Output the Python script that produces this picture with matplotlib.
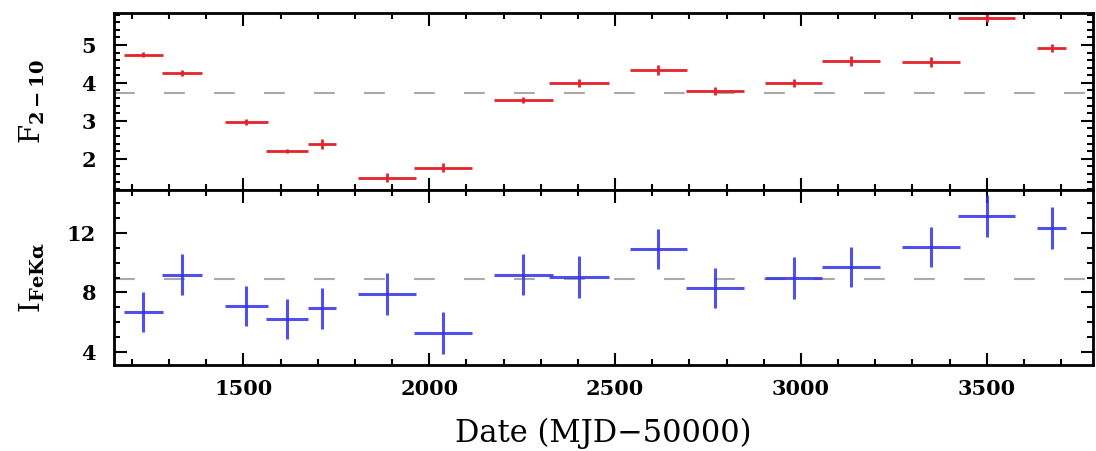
import matplotlib
matplotlib.use('Agg')
import matplotlib.pyplot as plt
from matplotlib.ticker import MultipleLocator

# ---------------------------------------------------------------------
# Datos
# ---------------------------------------------------------------------
fecha = [1231, 1336, 1508, 1618, 1712, 1887, 2038, 2253,
         2403, 2616, 2769, 2981, 3134, 3349, 3500, 3675]
semiancho = [52, 54, 58, 56, 38, 78, 78, 79,
             81, 77, 77, 77, 78, 78, 77, 39]

flujo = [4.74, 4.26, 2.97, 2.21, 2.39, 1.50, 1.76, 3.55,
         4.00, 4.34, 3.79, 4.00, 4.58, 4.55, 5.71, 4.92]
flujo_err = [0.07, 0.07, 0.09, 0.06, 0.12, 0.12, 0.12, 0.08,
             0.10, 0.12, 0.10, 0.10, 0.13, 0.12, 0.10, 0.10]
flujo_medio = 3.74

linea = [6.66, 9.20, 7.06, 6.19, 6.93, 7.87, 5.25, 9.20,
         9.02, 10.93, 8.27, 8.96, 9.70, 11.06, 13.14, 12.33]
linea_err = [1.35, 1.35, 1.35, 1.35, 1.37, 1.40, 1.40, 1.37,
             1.40, 1.35, 1.35, 1.40, 1.37, 1.35, 1.40, 1.40]
linea_media = 8.9

plt.rcParams['mathtext.fontset'] = 'dejavuserif'

fig = plt.figure(figsize=(10.96, 4.51), dpi=100)
ax1 = fig.add_axes([0.104, 0.579, 0.893, 0.392])
ax2 = fig.add_axes([0.104, 0.191, 0.893, 0.388], sharex=ax1)

rojo = '#e3242b'
azul = '#3333e6'
gris = '#aaaaaa'

ax1.errorbar(fecha, flujo, xerr=semiancho, yerr=flujo_err, fmt='none',
             ecolor=rojo, elinewidth=2.0, capsize=0)
ax1.axhline(flujo_medio, color=gris, lw=1.5, ls=(0, (10, 14)), zorder=0)

ax2.errorbar(fecha, linea, xerr=semiancho, yerr=linea_err, fmt='none',
             ecolor=azul, elinewidth=2.2, capsize=0, alpha=0.85)
ax2.axhline(linea_media, color=gris, lw=1.5, ls=(0, (10, 14)), zorder=0)

ax1.set_xlim(1152, 3785)
ax1.set_ylim(1.18, 5.84)
ax2.set_ylim(3.13, 14.89)

ax1.xaxis.set_major_locator(MultipleLocator(500))
ax1.xaxis.set_minor_locator(MultipleLocator(100))
ax1.yaxis.set_major_locator(MultipleLocator(1))
ax1.yaxis.set_minor_locator(MultipleLocator(0.2))
ax2.yaxis.set_major_locator(MultipleLocator(4))
ax2.yaxis.set_minor_locator(MultipleLocator(1))

fuente_ticks = {'family': 'DejaVu Serif', 'weight': 'bold', 'size': 15}
for ax in (ax1, ax2):
    for s in ax.spines.values():
        s.set_linewidth(2.0)
    ax.tick_params(which='both', direction='in', top=True, right=True,
                   width=1.5)
    ax.tick_params(axis='y', pad=13)
    ax.tick_params(axis='x', pad=10)
    ax.tick_params(which='major', length=9)
    ax.tick_params(which='minor', length=4.5)
    for lab in ax.get_yticklabels() + ax.get_xticklabels():
        lab.set_fontproperties(fuente_ticks)

ax1.tick_params(labelbottom=False)

ax1.set_ylabel(r'$\mathrm{F}_{\mathbf{2-10}}$', fontsize=20)
ax2.set_ylabel(r'$\mathrm{I}_{\mathbf{Fe K\alpha}}$', fontsize=20)
ax1.yaxis.set_label_coords(-0.068, 0.5)
ax2.yaxis.set_label_coords(-0.068, 0.5)

ax2.set_xlabel('Date (MJD\u221250000)', family='DejaVu Serif', fontsize=22,
               labelpad=14)

fig.savefig('out.png', dpi=100)
